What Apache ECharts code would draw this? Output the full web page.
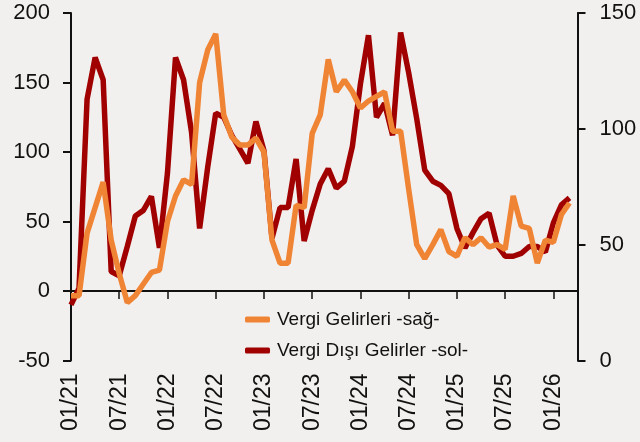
<!DOCTYPE html>
<html>
<head>
<meta charset="utf-8">
<script src="https://cdn.jsdelivr.net/npm/echarts@6/dist/echarts.min.js"></script>
<style>
    html, body { margin: 0; padding: 0; background: #f2f0ee; }
    #echart_canvas { width: 640px; height: 442px; }
</style>
</head>
<body>
<div id="echart_canvas"></div>
<script>
// monthly, 01/21 .. 03/26 (axis runs one month further, to 04/26)
let startYear = 21;
let monthCount = 64;

let vergiDisiSol = [-10, 2, 138, 168, 152, 14, 11, 32, 54, 58, 68, 31,
    85, 168, 152, 114, 45, 89, 128, 125, 112, 102, 92, 122,
    101, 38, 60, 60, 95, 36, 58, 77, 88, 74, 79, 104,
    149, 184, 125, 135, 112, 186, 157, 124, 87, 79, 76, 70,
    45, 31, 42, 52, 56, 33, 25, 25, 27, 32, 32, 28,
    49, 62, 67];

let vergiSag = [28, 28, 55, 66, 77, 52, 37.5, 25, 28, 33, 38, 39,
    60, 71, 78, 76, 120, 134, 141, 106, 96.5, 93, 93, 96,
    90, 52, 42, 42, 67, 66, 98, 106, 130, 116, 121, 116,
    109, 112, 114, 116, 99, 99, 74, 50, 44, 50, 56.5, 47,
    45, 53, 50, 53, 49, 50, 48, 71, 58, 57, 42, 52,
    51, 63, 68];

let seriesNames = ['Vergi Gelirleri -sağ-', 'Vergi Dışı Gelirler -sol-'];
let leftTicks = {min: -50, max: 200, interval: 50};
let rightTicks = {min: 0, max: 150, interval: 50};

let categories = [];
for (let i = 0; i < monthCount; i++) {
    let m = (i % 12) + 1;
    let y = startYear + Math.floor(i / 12);
    categories.push((m < 10 ? '0' + m : '' + m) + '/' + y);
}

let font = 'Liberation Sans';
let ink = '#111111';

function everySixth(index) {
    return index % 6 === 0;
}

let myChart = echarts.init(document.getElementById('echart_canvas'), null, {renderer: 'canvas'});
let option = {
    backgroundColor: '#f2f0ee',
    animation: false,
    grid: {left: 71, right: 62.5, top: 13, bottom: 81.5, containLabel: false},
    legend: {
        data: seriesNames,
        orient: 'vertical',
        left: 240,
        top: 305,
        itemWidth: 25,
        itemHeight: 6,
        itemGap: 12,
        icon: 'roundRect',
        textStyle: {fontFamily: font, fontSize: 19, color: ink, padding: [0, 0, 0, 2]}
    },
    xAxis: [
        {
            type: 'category',
            data: categories,
            boundaryGap: false,
            position: 'bottom',
            axisLine: {show: false, onZero: false},
            axisTick: {show: false},
            axisLabel: {
                interval: everySixth,
                rotate: 90,
                margin: 13,
                fontFamily: font,
                fontSize: 23,
                color: ink
            }
        },
        {
            type: 'category',
            data: categories,
            boundaryGap: false,
            position: 'top',
            axisLine: {onZero: true, onZeroAxisIndex: 0, lineStyle: {color: ink, width: 2}},
            axisTick: {inside: true, length: 8, interval: everySixth, lineStyle: {color: ink, width: 1.5}},
            axisLabel: {show: false}
        }
    ],
    yAxis: [
        {
            type: 'value',
            min: leftTicks.min,
            max: leftTicks.max,
            interval: leftTicks.interval,
            position: 'left',
            splitLine: {show: false},
            axisLine: {show: true, lineStyle: {color: ink, width: 2}},
            axisTick: {show: true, length: 8, lineStyle: {color: ink, width: 2}},
            axisLabel: {margin: 21, fontFamily: font, fontSize: 22, color: ink}
        },
        {
            type: 'value',
            min: rightTicks.min,
            max: rightTicks.max,
            interval: rightTicks.interval,
            position: 'right',
            splitLine: {show: false},
            axisLine: {show: true, lineStyle: {color: ink, width: 2}},
            axisTick: {show: true, length: 8, lineStyle: {color: ink, width: 2}},
            axisLabel: {margin: 22, fontFamily: font, fontSize: 22, color: ink}
        }
    ],
    series: [
        {
            name: seriesNames[1],
            type: 'line',
            xAxisIndex: 0,
            yAxisIndex: 0,
            data: vergiDisiSol,
            showSymbol: false,
            symbol: 'none',
            color: '#a00000',
            lineStyle: {width: 5.5, color: '#a00000'}
        },
        {
            name: seriesNames[0],
            type: 'line',
            xAxisIndex: 0,
            yAxisIndex: 1,
            data: vergiSag,
            showSymbol: false,
            symbol: 'none',
            color: '#f08435',
            lineStyle: {width: 5.5, color: '#f08435'}
        }
    ]
};
myChart.setOption(option);
</script>
</body>
</html>
